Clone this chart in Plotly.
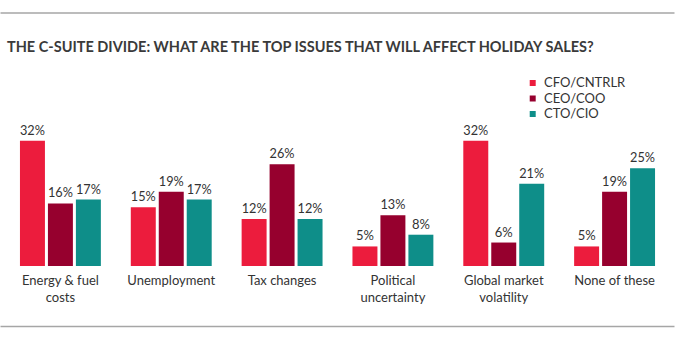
import plotly.graph_objects as go

categories = ["Energy & fuel<br>costs", "Unemployment", "Tax changes",
              "Political<br>uncertainty", "Global market<br>volatility", "None of these"]
series_names = ["CFO/CNTRLR", "CEO/COO", "CTO/CIO"]
cfo = [32, 15, 12, 5, 32, 5]
ceo = [16, 19, 26, 13, 6, 19]
cto = [17, 17, 12, 8, 21, 25]
colors = ["#EC1C3D", "#96002E", "#0E8E89"]
title_text = "THE C-SUITE DIVIDE: WHAT ARE THE TOP ISSUES THAT WILL AFFECT HOLIDAY SALES?"

W, H = 675, 340
ML, MR, MT, MB = 4.5, 4.5, 133, 74
PW, PH = W - ML - MR, H - MT - MB

def px_x(p):
    return (p - ML) / PW

def px_y(p):
    return (H - MB - p) / PH

FONT = "Lato"
TXT = "#333333"

fig = go.Figure()
for name, vals, col in zip(series_names, [cfo, ceo, cto], colors):
    fig.add_trace(go.Bar(
        x=categories, y=vals, name=name, marker_color=col,
        marker_line_width=0,
        text=[f"{v}%" for v in vals], textposition="outside",
        textfont=dict(family=FONT, size=13, color=TXT),
        cliponaxis=False, showlegend=False,
    ))

fig.update_layout(
    width=W, height=H,
    margin=dict(l=ML, r=MR, t=MT, b=MB, pad=0),
    paper_bgcolor="white", plot_bgcolor="white",
    barmode="group", bargap=0.243, bargroupgap=0.107,
    font=dict(family=FONT, size=13, color=TXT),
    showlegend=False,
)
fig.update_xaxes(showline=False, showgrid=False, zeroline=False, ticks="",
                 ticklabelstandoff=5,
                 tickfont=dict(family=FONT, size=13, color=TXT))
fig.update_yaxes(range=[0, 34], visible=False, showgrid=False, zeroline=False)

# rules
fig.add_shape(type="line", xref="paper", yref="paper", x0=px_x(0), x1=px_x(W),
              y0=px_y(13), y1=px_y(13), line=dict(color="#A6A6A6", width=1.5))
fig.add_shape(type="line", xref="paper", yref="paper", x0=px_x(0), x1=px_x(W),
              y0=px_y(326.5), y1=px_y(326.5), line=dict(color="#A6A6A6", width=1.5))

# title
fig.add_annotation(text="<b>" + title_text + "</b>", xref="paper", yref="paper",
                   x=px_x(5), y=px_y(47), xanchor="left", yanchor="middle",
                   showarrow=False, font=dict(family=FONT, size=14.5, color="#3A3A3A"))

# legend
for i, (name, col) in enumerate(zip(series_names, colors)):
    yc = 83 + 15.5 * i
    fig.add_shape(type="rect", xref="paper", yref="paper",
                  x0=px_x(530), x1=px_x(536), y0=px_y(yc - 3), y1=px_y(yc + 3),
                  fillcolor=col, line_width=0)
    fig.add_annotation(text=name, xref="paper", yref="paper",
                       x=px_x(542), y=px_y(yc - 1), xanchor="left", yanchor="middle",
                       showarrow=False, font=dict(family=FONT, size=13, color=TXT))

fig.write_html("out.html")
